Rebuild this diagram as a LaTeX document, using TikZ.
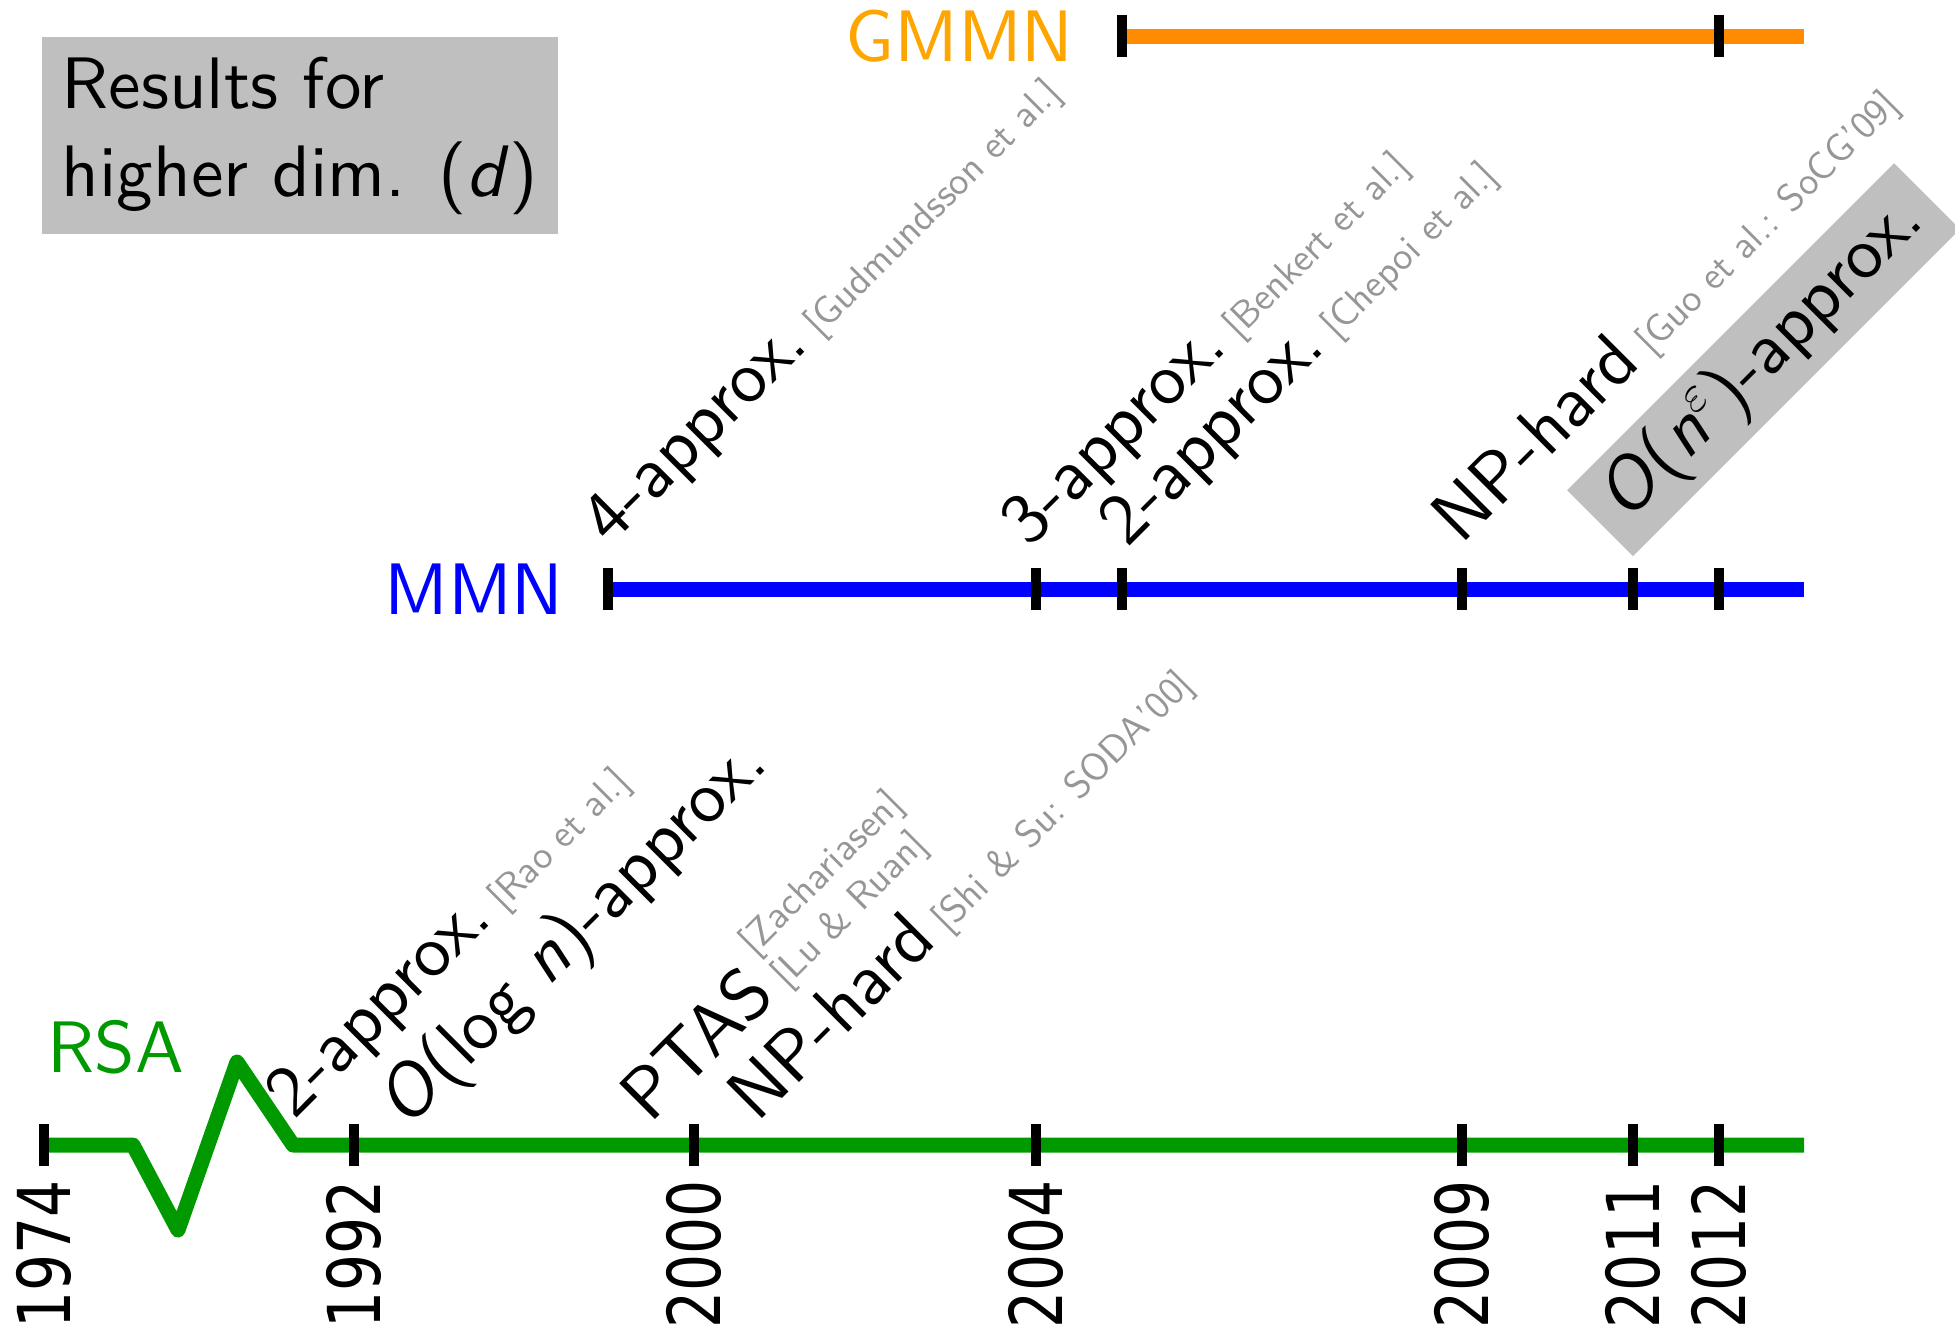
\documentclass[tikz,border=0pt]{standalone}
\usepackage{fontspec}
\setsansfont{lmsans10-regular.otf}[ItalicFont=lmsans10-oblique.otf]
\newfontfamily\yearfont[FakeStretch=0.8]{DejaVu Sans}
\usetikzlibrary{positioning,calc}
\definecolor{rsagreen}{RGB}{0,153,0}
\definecolor{mmnblue}{RGB}{0,0,255}
\definecolor{gmmnline}{RGB}{255,140,0}
\definecolor{gmmntext}{RGB}{255,165,0}
\definecolor{refgray}{RGB}{150,150,150}
\definecolor{boxgray}{RGB}{191,191,191}
% small grey citation after a result
\newcommand{\paperref}[1]{{\fontsize{11pt}{13pt}\selectfont\color{refgray}\ #1}}
\newcommand{\paperstack}[2]{{\fontsize{11pt}{13pt}\selectfont\color{refgray}\ \begin{tabular}[b]{@{}l@{}}#1\\{}#2\end{tabular}}}
\tikzset{
  timeline/.style={line width=0.15cm, line join=round},
  tickmark/.style={fill=black, inner sep=0pt, minimum width=0.1cm, minimum height=0.42cm},
  yearlbl/.style={font=\yearfont\huge, rotate=90, anchor=east, inner sep=0.13cm},
  result/.style={font=\sffamily\huge, rotate=45, anchor=base west, inner sep=0pt},
  probname/.style={font=\sffamily\huge, inner sep=0pt},
  hlbox/.style={fill=boxgray, font=\sffamily\huge, rotate=45, anchor=south west,
    inner sep=0.1cm, minimum width=4.62cm, minimum height=0.93cm},
  titlebox/.style={fill=boxgray, font=\sffamily\huge, align=left, inner sep=0.2cm},
}

\begin{document}
\begin{tikzpicture}[x=0.01cm,y=-0.01cm]
  \useasboundingbox (0,0) rectangle (1955,1332);

  % tick positions on the three lines
  \foreach \yr/\xx in {1974/44,1992/354,2000/694,2004/1036,2009/1462,2011/1633,2012/1719}
    \coordinate (r\yr) at (\xx,1145);
  \foreach \yr/\xx in {1998/608,2004/1036,2005/1122,2009/1462,2011/1633,2012/1719}
    \coordinate (m\yr) at (\xx,589);
  \foreach \yr/\xx in {2005/1122,2012/1719}
    \coordinate (g\yr) at (\xx,36);
  \coordinate (rsaend) at (1804,1145);
  \coordinate (mmnend) at (1804,589);
  \coordinate (gmmnend) at (1804,36);

  % the lines (RSA has a break before 1992)
  \draw[timeline, rsagreen] (r1974) -- ++(89,0) -- ++(45,85) -- ++(59,-168) -- ++(56,83) -- (rsaend);
  \draw[timeline, mmnblue] (m1998) -- (mmnend);
  \draw[timeline, gmmnline] (g2005) -- (gmmnend);

  % ticks and years
  \foreach \yr in {1974,1992,2000,2004,2009,2011,2012} {
    \node[tickmark] (tr\yr) at (r\yr) {};
    \node[yearlbl] (y\yr) at (tr\yr.south) {\yr};
  }
  \foreach \yr in {1998,2004,2005,2009,2011,2012}
    \node[tickmark] (tm\yr) at (m\yr) {};
  \foreach \yr in {2005,2012}
    \node[tickmark] (tg\yr) at (g\yr) {};

  % problem names
  \node[probname, text=rsagreen, anchor=base west] (rsa) at (47,1072) {RSA};
  \node[probname, text=mmnblue, left=0.38cm of tm1998] (mmn) {MMN};
  \node[probname, text=gmmntext, left=0.42cm of tg2005] (gmmn) {GMMN};

  % RSA results
  \node[result] (rao) at ($(r1992)+(-60,-24)$) {2-approx.\paperref{[Rao et al.]}};
  \node[result] (logn) at ($(r1992)+(52,-15)$) {\textit{O}(log \textit{n})-approx.};
  \node[result] (ptas) at ($(r2000)+(-44,-20)$) {PTAS\paperstack{[Zachariasen]}{[Lu \& Ruan]}};
  \node[result] (shisu) at ($(r2000)+(63,-21)$) {NP-hard\paperref{[Shi \& Su: SODA'00]}};

  % MMN results
  \node[result] (gudm) at ($(m1998)+(2,-42)$) {4-approx.\paperref{[Gudmundsson et al.]}};
  \node[result] (benk) at ($(m2004)+(-7,-40)$) {3-approx.\paperref{[Benkert et al.]}};
  \node[result] (chep) at ($(m2005)+(5,-40)$) {2-approx.\paperref{[Chepoi et al.]}};
  \node[result] (guo) at ($(m2009)+(-1,-43)$) {NP-hard\paperref{[Guo et al.: SoCG'09]}};
  \node[hlbox] (neps) at ($(m2011)+(0,-32)$) {\textit{O}(\textit{n}$^{\varepsilon}$)-approx.};

  \node[titlebox, anchor=north west] (title) at (41,36) {Results for\\higher dim. (\textit{d})};
\end{tikzpicture}
\end{document}
